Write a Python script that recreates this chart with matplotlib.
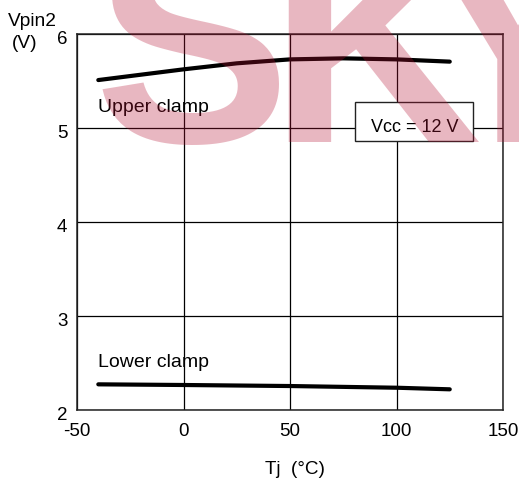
import matplotlib
matplotlib.use("Agg")
import matplotlib.pyplot as plt
from matplotlib.patches import Rectangle
from matplotlib.transforms import ScaledTranslation

plt.rcParams["font.family"] = ["Liberation Sans", "DejaVu Sans"]
plt.rcParams["axes.unicode_minus"] = False

# ── data ──
upper_tj = [-40, 0, 25, 50, 75, 100, 125]
upper_v = [5.51, 5.624, 5.688, 5.73, 5.741, 5.73, 5.706]

lower_tj = [-40, 0, 50, 100, 125]
lower_v = [2.273, 2.266, 2.255, 2.237, 2.22]

x_ticks = [-50, 0, 50, 100, 150]
y_ticks = [2, 3, 4, 5, 6]

W, H = 519, 483

fig = plt.figure(figsize=(W / 100, H / 100), dpi=100)
ax = fig.add_axes([77 / W, 1 - 410 / H, (503 - 77) / W, (410 - 34) / H])

ax.plot(upper_tj, upper_v, color="black", lw=3, solid_capstyle="round", zorder=4)
ax.plot(lower_tj, lower_v, color="black", lw=3, solid_capstyle="round", zorder=4)

ax.set_xlim(-50, 150)
ax.set_ylim(2, 6)
ax.set_xticks(x_ticks)
ax.set_yticks(y_ticks)
ax.grid(True, color="black", lw=0.9)
ax.tick_params(length=0, labelsize=13.5, colors="black")
ax.tick_params(axis="x", pad=9.5)
ax.tick_params(axis="y", pad=7)
for sp in ax.spines.values():
    sp.set_linewidth(1.1)
    sp.set_color("#222222")

# y tick labels sit a little below their gridlines
off = ScaledTranslation(0, -0.04, fig.dpi_scale_trans)
for lab in ax.get_yticklabels():
    lab.set_transform(lab.get_transform() + off)

ax.text(-40, 5.17, "Upper clamp", fontsize=14, va="baseline", ha="left", zorder=5)
ax.text(-40, 2.457, "Lower clamp", fontsize=14, va="baseline", ha="left", zorder=5)

# Vcc box
bx0, by0, bx1, by1 = 80.5, 4.862, 135.9, 5.277
box = Rectangle((bx0, by0), bx1 - bx0, by1 - by0, facecolor="white",
                edgecolor="#222222", lw=1.0, zorder=2.5)
ax.add_patch(box)
ax.text(108.7, 4.96, "Vcc = 12 V", fontsize=13, va="baseline", ha="center", zorder=3)

# axis titles
fig.text(8 / W, 1 - 26 / H, "Vpin2", fontsize=13.8, va="baseline", ha="left")
fig.text(25 / W, 1 - 48 / H, "(V)", fontsize=13.8, va="baseline", ha="center")
fig.text(295 / W, 1 - 470 / H, "Tj  (°C)", fontsize=13.6, va="center", ha="center")

# watermark on top; colour/alpha chosen so it reads pink on white
# and darkens whatever is underneath (roughly like a multiply)
wm = [("S", 93), ("K", 268), ("Y", 420)]
for ch, px in wm:
    fig.text(px / W, 1 - 142 / H, ch, fontsize=212, fontweight="bold",
             color="#B61334", alpha=0.3, va="baseline", ha="left", zorder=10)

fig.savefig("out.png", dpi=100)
